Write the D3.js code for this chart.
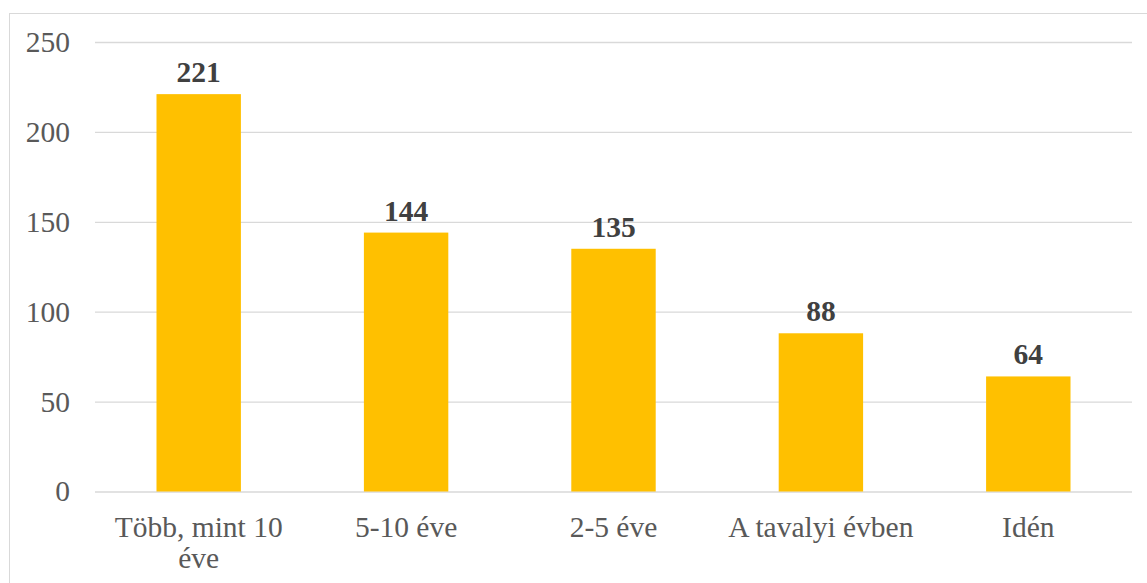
<!DOCTYPE html>
<html>
<head>
<meta charset="utf-8">
<script src="https://cdn.jsdelivr.net/npm/d3@7"></script>
<style>
  html, body { margin: 0; padding: 0; background: #fff; }
  svg { display: block; }
  svg text { font-family: "Liberation Serif", "Times New Roman", serif; }
</style>
</head>
<body>
<svg id="chart" width="1147" height="583"></svg>
<script>
// Respondents by how long ago they started
const categories = ["Több, mint 10 éve", "5-10 éve", "2-5 éve", "A tavalyi évben", "Idén"];
const values = [221, 144, 135, 88, 64];
const yTicks = [0, 50, 100, 150, 200, 250];

const svg = d3.select("#chart");
const m = { left: 95, right: 1132, top: 42, bottom: 491.5 };
const fontSize = 29.5;

// chart frame
svg.append("rect")
  .attr("x", 9.5).attr("y", 13.5)
  .attr("width", 1400).attr("height", 800)
  .attr("fill", "none").attr("stroke", "#d9d9d9").attr("stroke-width", 1);

const x = d3.scaleBand().domain(categories).range([m.left, m.right]).paddingInner(0.593).paddingOuter(0.2965);
const y = d3.scaleLinear().domain([0, 250]).range([m.bottom, m.top]);

// gridlines and y tick labels
const yAxis = d3.axisLeft(y).tickValues(yTicks).tickSize(-(m.right - m.left)).tickPadding(25);
const gy = svg.append("g").attr("transform", `translate(${m.left},0)`).call(yAxis);
gy.attr("font-family", null).attr("font-size", null);
gy.select(".domain").remove();
gy.selectAll(".tick line").attr("stroke", "#d9d9d9").attr("stroke-width", 1.3);
gy.selectAll(".tick text")
  .attr("font-size", fontSize).attr("fill", "#595959");

// bars
svg.append("g").selectAll("rect").data(values).join("rect")
  .attr("x", (d, i) => x(categories[i]))
  .attr("y", d => y(d))
  .attr("width", x.bandwidth())
  .attr("height", d => y(0) - y(d))
  .attr("fill", "#FFC000");

// value labels
svg.append("g").selectAll("text").data(values).join("text")
  .attr("x", (d, i) => x(categories[i]) + x.bandwidth() / 2)
  .attr("y", d => y(d) - 12)
  .attr("text-anchor", "middle")
  .attr("font-size", fontSize).attr("font-weight", "bold")
  .attr("fill", "#404040")
  .text(d => d);

// category labels, wrapped to the band width
const labelLines = {
  "Több, mint 10 éve": ["Több, mint 10", "éve"]
};
const gx = svg.append("g");
categories.forEach(c => {
  const lines = labelLines[c] || [c];
  const cx = x(c) + x.bandwidth() / 2;
  const t = gx.append("text")
    .attr("x", cx)
    .attr("y", 537)
    .attr("text-anchor", "middle")
    .attr("font-size", fontSize).attr("fill", "#595959");
  lines.forEach((l, i) => {
    t.append("tspan").attr("x", cx).attr("dy", i === 0 ? 0 : 31).text(l);
  });
});
</script>
</body>
</html>
